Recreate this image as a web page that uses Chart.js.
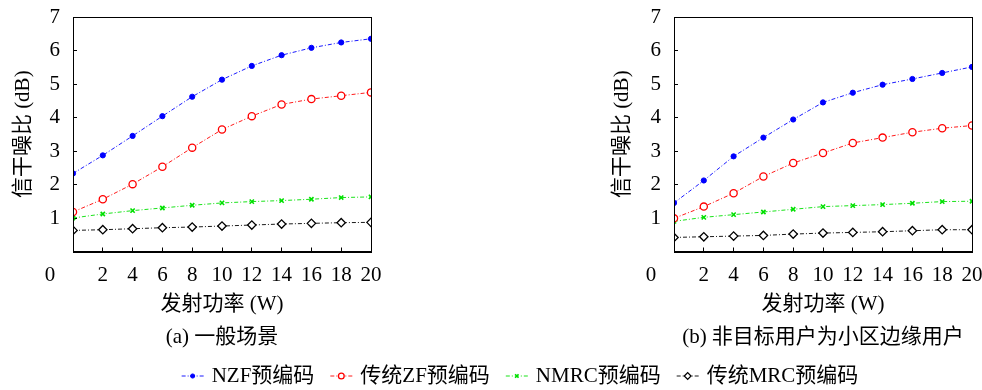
<!DOCTYPE html>
<html>
<head>
<meta charset="utf-8">
<script src="https://cdn.jsdelivr.net/npm/chart.js@4/dist/chart.umd.min.js"></script>
<style>
  html, body { margin: 0; padding: 0; background: #fff; width: 982px; height: 390px; overflow: hidden; position: relative; }
  canvas { position: absolute; }
</style>
</head>
<body>
<canvas id="chartA" width="400" height="360" style="left:0;top:0"></canvas>
<canvas id="chartB" width="400" height="360" style="left:590px;top:0"></canvas>
<canvas id="legendChart" width="982" height="35" style="left:0;top:355px"></canvas>
<script>
// transmit power (W)
const powerW = [0, 2, 4, 6, 8, 10, 12, 14, 16, 18, 20];

// (a) general scenario
const nzfA  = [2.33, 2.87, 3.45, 4.04, 4.62, 5.13, 5.54, 5.86, 6.08, 6.24, 6.35];
const zfA   = [1.18, 1.56, 2.01, 2.53, 3.10, 3.64, 4.04, 4.39, 4.55, 4.65, 4.75];
const nmrcA = [1.00, 1.12, 1.22, 1.30, 1.38, 1.45, 1.49, 1.52, 1.56, 1.61, 1.63];
const mrcA  = [0.63, 0.65, 0.68, 0.71, 0.73, 0.76, 0.79, 0.82, 0.84, 0.86, 0.87];

// (b) non-target users at cell edge
const nzfB  = [1.45, 2.12, 2.84, 3.40, 3.94, 4.45, 4.74, 4.98, 5.15, 5.33, 5.51];
const zfB   = [0.99, 1.34, 1.74, 2.24, 2.64, 2.94, 3.24, 3.40, 3.56, 3.68, 3.76];
const nmrcB = [0.90, 1.02, 1.10, 1.18, 1.26, 1.34, 1.37, 1.40, 1.44, 1.49, 1.50];
const mrcB  = [0.42, 0.44, 0.46, 0.48, 0.52, 0.55, 0.57, 0.59, 0.62, 0.65, 0.65];

const seriesNames = ["NZF预编码", "传统ZF预编码", "NMRC预编码", "传统MRC预编码"];
const yTicks = [1, 2, 3, 4, 5, 6, 7];

const FONT = "'Liberation Serif', 'Noto Sans CJK SC', serif";
Chart.defaults.font.family = FONT;
Chart.defaults.font.size = 21;
Chart.defaults.color = "#000000";

// marker / line look per series
const seriesStyle = [
  { color: "#0000ff", point: "circle",   radius: 2.6, fill: "#0000ff", bw: 1 },
  { color: "#ff0000", point: "circle",   radius: 3.6, fill: "#ffffff", bw: 1.3 },
  { color: "#00e000", point: "crossRot", radius: 3,   fill: "#00e000", bw: 1.6 },
  { color: "#000000", point: "rectRot",  radius: 4.2, fill: "#ffffff", bw: 1.3 },
];

function buildDatasets(seriesValues) {
  return seriesValues.map((vals, i) => {
    const s = seriesStyle[i];
    return {
      label: seriesNames[i],
      data: vals.map((v, k) => ({ x: powerW[k], y: v })),
      borderColor: s.color,
      backgroundColor: s.fill,
      borderWidth: 0.9,
      borderDash: [4, 2, 1, 2],
      tension: 0,
      pointStyle: s.point,
      pointRadius: s.radius,
      pointBackgroundColor: s.fill,
      pointBorderColor: s.color,
      pointBorderWidth: s.bw,
    };
  });
}

// box around the plot + the stray "0" origin label
const framePlugin = {
  id: "frame",
  afterDraw(chart) {
    const { ctx, chartArea: a } = chart;
    ctx.save();
    ctx.strokeStyle = "#000";
    ctx.lineWidth = 1;
    ctx.strokeRect(Math.round(a.left) + 0.5, Math.round(a.top) + 0.5,
      Math.round(a.right - a.left), Math.round(a.bottom - a.top));
    ctx.fillStyle = "#000";
    ctx.font = "21px " + FONT;
    ctx.textAlign = "center";
    ctx.textBaseline = "middle";
    ctx.fillText("0", chart.scales.x.getPixelForValue(0) - 23, chart.scales.x.top + 23.5);
    ctx.restore();
  },
};

function makeChart(id, seriesValues, cfg) {
  return new Chart(document.getElementById(id), {
    type: "line",
    data: { datasets: buildDatasets(seriesValues) },
    options: {
      responsive: false,
      animation: false,
      layout: { padding: { left: 0, right: cfg.padRight, top: 17, bottom: 0 } },
      scales: {
        x: {
          type: "linear",
          min: 0,
          max: 20,
          afterFit: (s) => { s.height = 72.9; s.paddingLeft = 0; s.paddingRight = 0; },
          afterBuildTicks: (s) => { s.ticks = powerW.map((v) => ({ value: v })); },
          ticks: { padding: 14.9, callback: (v) => (v === 0 ? "" : v) },
          grid: { display: true, drawOnChartArea: false, drawTicks: true, tickLength: -4, color: "#000" },
          border: { display: true, color: "#000" },
          title: { display: true, text: "发射功率 (W)", font: { size: 21 }, padding: { top: 0, bottom: 7.8 } },
        },
        y: {
          min: 0,
          max: 7,
          afterFit: (s) => { s.width = cfg.yWidth; s.paddingTop = 0; s.paddingBottom = 0; },
          afterBuildTicks: (s) => { s.ticks = [0].concat(yTicks).map((v) => ({ value: v })); },
          ticks: { padding: 17, callback: (v) => (v === 0 ? "" : v) },
          grid: { display: true, drawOnChartArea: false, drawTicks: true, tickLength: -4, color: "#000" },
          border: { display: true, color: "#000" },
          title: { display: true, text: "信干噪比 (dB)", font: { size: 21 }, padding: { top: cfg.yTitlePad, bottom: 0 } },
        },
      },
      plugins: {
        legend: { display: false },
        tooltip: { enabled: false },
        title: {
          display: true,
          position: "bottom",
          fullSize: false,
          text: cfg.caption,
          color: "#000",
          font: { size: 21, weight: "normal" },
          padding: { top: 0, bottom: 10.4 },
        },
      },
    },
    plugins: [framePlugin],
  });
}

window.charts = {};
window.charts.a = makeChart("chartA", [nzfA, zfA, nmrcA, mrcA],
  { yWidth: 73, padRight: 29, yTitlePad: 10.4, caption: "(a) 一般场景" });
window.charts.b = makeChart("chartB", [nzfB, zfB, nmrcB, mrcB],
  { yWidth: 84, padRight: 18, yTitlePad: 19.4, caption: "(b) 非目标用户为小区边缘用户" });

// shared legend: line segment with marker, then label
const lineLegendPlugin = {
  id: "lineLegend",
  afterDraw(chart) {
    const ctx = chart.ctx;
    ctx.save();
    ctx.font = "21px " + FONT;
    const seg = 22, gapText = 8, gapItem = 16, y = 21;
    const ds = chart.data.datasets;
    const widths = ds.map((d) => ctx.measureText(d.label).width);
    const total = widths.reduce((acc, w) => acc + seg + gapText + w, 0) + gapItem * (ds.length - 1);
    let x = 520 - total / 2;
    ds.forEach((d, i) => {
      ctx.strokeStyle = d.borderColor;
      ctx.lineWidth = d.borderWidth;
      ctx.setLineDash(d.borderDash);
      ctx.beginPath();
      ctx.moveTo(x, y);
      ctx.lineTo(x + seg, y);
      ctx.stroke();
      ctx.setLineDash([]);
      ctx.fillStyle = d.pointBackgroundColor;
      ctx.strokeStyle = d.pointBorderColor;
      ctx.lineWidth = d.pointBorderWidth;
      Chart.helpers.drawPoint(ctx, {
        pointStyle: d.pointStyle, radius: d.pointRadius * 0.8,
        borderWidth: d.pointBorderWidth, rotation: 0,
      }, x + seg / 2, y);
      ctx.fillStyle = "#000";
      ctx.textAlign = "left";
      ctx.textBaseline = "middle";
      ctx.fillText(d.label, x + seg + gapText, y);
      x += seg + gapText + widths[i] + gapItem;
    });
    ctx.restore();
  },
};

window.charts.legend = new Chart(document.getElementById("legendChart"), {
  type: "line",
  data: { datasets: buildDatasets([[], [], [], []]) },
  options: {
    responsive: false,
    animation: false,
    scales: { x: { display: false }, y: { display: false } },
    plugins: { legend: { display: false }, tooltip: { enabled: false } },
  },
  plugins: [lineLegendPlugin],
});
</script>
</body>
</html>
